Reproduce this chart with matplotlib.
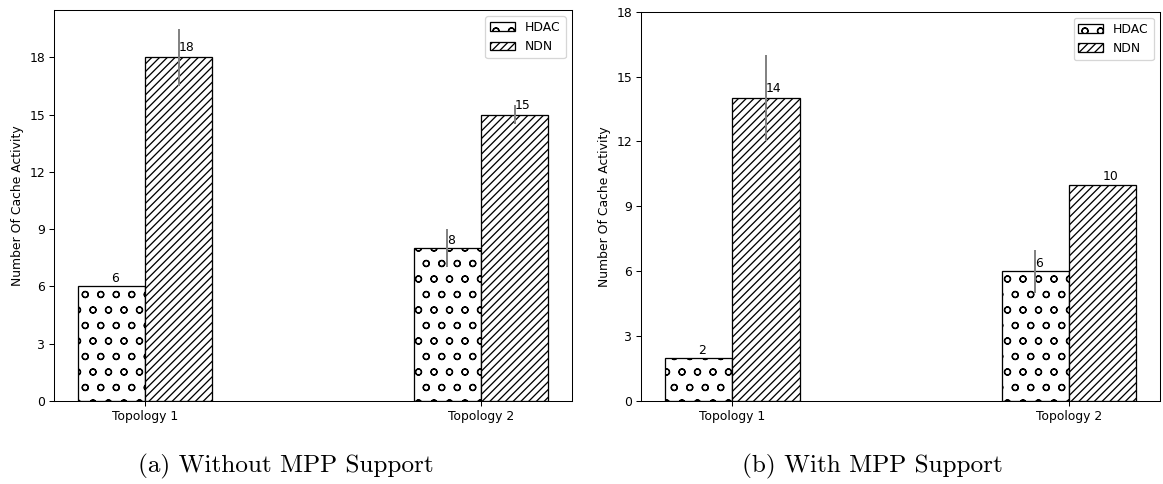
import matplotlib
matplotlib.use('Agg')
import matplotlib.pyplot as plt
import numpy as np

# data
categories = ['Topology 1', 'Topology 2']
series = ['HDAC', 'NDN']

hdac_no_mpp = [6, 8]
ndn_no_mpp = [18, 15]
hdac_no_mpp_err = [0, 1]
ndn_no_mpp_err = [1.5, 0.5]

hdac_mpp = [2, 6]
ndn_mpp = [14, 10]
hdac_mpp_err = [0, 1]
ndn_mpp_err = [2, 0]

captions = ['(a) Without MPP Support', '(b) With MPP Support']

DPI = 93
plt.rcParams['font.size'] = 9.6


def draw_panel(ax, hdac, ndn, hdac_err, ndn_err, ylim=None):
    ind = np.arange(len(categories))
    width = 0.2
    r1 = ax.bar(ind - width / 2, hdac, width, yerr=hdac_err, color='white',
                edgecolor='black', linewidth=1, hatch='o', ecolor='gray',
                label=series[0])
    r2 = ax.bar(ind + width / 2, ndn, width, yerr=ndn_err, color='white',
                edgecolor='black', linewidth=1, hatch='////', ecolor='gray',
                label=series[1])

    # value labels on top of the bars
    for rects in (r1, r2):
        for rect in rects:
            h = rect.get_height()
            ax.text(rect.get_x() + rect.get_width() / 2., 1.01 * h,
                    '%d' % int(h), ha='left', va='bottom')

    ax.set_xticks(ind)
    ax.set_xticklabels(categories)
    ax.set_yticks(np.arange(0, 19, 3))
    if ylim is not None:
        ax.set_ylim(*ylim)
    ax.set_ylabel('Number Of Cache Activity')
    ax.legend(loc='upper right')


fig = plt.figure(figsize=(1163 / DPI, 484 / DPI), dpi=DPI)
ax1 = fig.add_axes([0.0467, 0.1715, 0.4449, 0.8079])
ax2 = fig.add_axes([0.5514, 0.1715, 0.4460, 0.8043])

draw_panel(ax1, hdac_no_mpp, ndn_no_mpp, hdac_no_mpp_err, ndn_no_mpp_err)
draw_panel(ax2, hdac_mpp, ndn_mpp, hdac_mpp_err, ndn_mpp_err, ylim=(0, 18))

# subfigure captions
fig.text(0.246, 0.037, captions[0], ha='center', va='center',
         family='cmr10', fontsize=19.5)
fig.text(0.750, 0.037, captions[1], ha='center', va='center',
         family='cmr10', fontsize=19.5)

fig.savefig('out.png', dpi=DPI)
